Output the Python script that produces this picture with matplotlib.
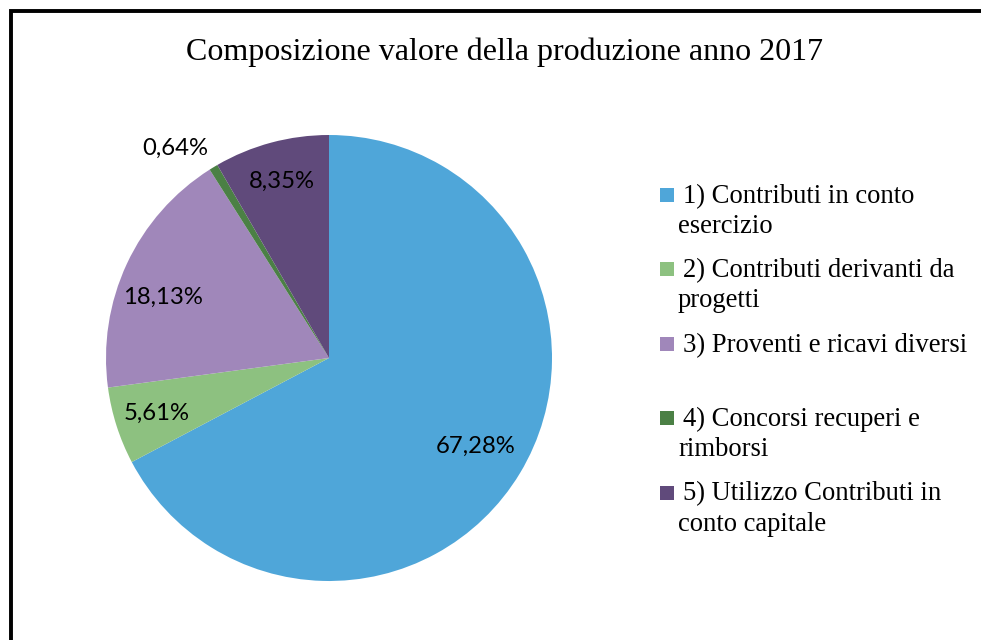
import matplotlib
matplotlib.use('Agg')
import matplotlib.pyplot as plt
from matplotlib.patches import Rectangle
import numpy as np

# Data
title = 'Composizione valore della produzione anno 2017'
labels = [
    '1) Contributi in conto\nesercizio',
    '2) Contributi derivanti da\nprogetti',
    '3) Proventi e ricavi diversi',
    '4) Concorsi recuperi e\nrimborsi',
    '5) Utilizzo Contributi in\nconto capitale',
]
values = [67.28, 5.61, 18.13, 0.64, 8.35]
pct_labels = ['67,28%', '5,61%', '18,13%', '0,64%', '8,35%']
colors = ['#4FA6D9', '#8DC180', '#A087BA', '#4B8045', '#604A7B']

# label distance from centre (fraction of radius), per slice
label_dist = [0.77, 0.81, 0.79, 1.166, 0.82]
label_shift = [0, 0, 5, 5, 0]  # small angular tweaks (deg) as in Excel layout

W, H = 981, 640
fig = plt.figure(figsize=(W / 100, H / 100), dpi=100)
ax = fig.add_axes([0, 0, 1, 1])

cx, cy, R = 329, H - 358, 223
wedges, _ = ax.pie(values, colors=colors, startangle=90, counterclock=False,
                   center=(cx, cy), radius=R, frame=True,
                   wedgeprops=dict(linewidth=0))
ax.set_xlim(0, W)
ax.set_ylim(0, H)
ax.axis('off')

# outer frame (right/bottom edges fall outside the image)
ax.add_patch(Rectangle((11, -20), W + 40, H - 11 + 20, fill=False,
                       edgecolor='black', linewidth=2.8))

for w, txt, d, sh in zip(wedges, pct_labels, label_dist, label_shift):
    ang = np.deg2rad((w.theta1 + w.theta2) / 2 + sh)
    ax.text(cx + d * R * np.cos(ang), cy + d * R * np.sin(ang), txt,
            ha='center', va='center', fontsize=17.2, family='Lato',
            color='black')

ax.text(505, H - 60, title, ha='center', va='baseline', fontsize=23,
        family='Liberation Serif')

# legend drawn by hand to keep Excel spacing
base0 = H - 203
step = 74.4
line_gap = 30
for i, (lab, col) in enumerate(zip(labels, colors)):
    b = base0 - i * step
    ax.add_patch(Rectangle((660, b + 1), 14, 14, facecolor=col, edgecolor='none'))
    for j, line in enumerate(lab.split('\n')):
        x = 683 if j == 0 else 678
        ax.text(x, b - j * line_gap, line, ha='left', va='baseline',
                fontsize=19.2, family='Liberation Serif')

fig.savefig('out.png', dpi=100)
